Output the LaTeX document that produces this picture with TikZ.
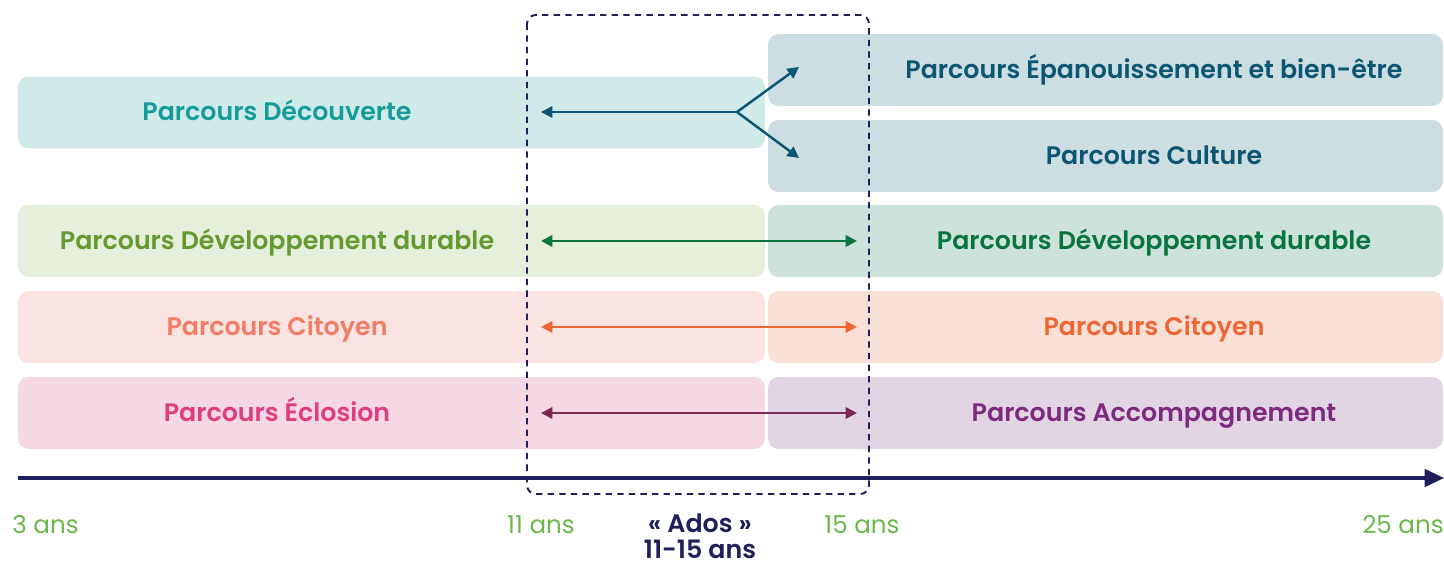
\documentclass[tikz,border=0pt]{standalone}
\usepackage{fontspec}
\setmainfont{Poppins}[BoldFont={Poppins SemiBold}]
\usetikzlibrary{arrows.meta}

\definecolor{navy}{HTML}{1F1F5C}
\definecolor{agegreen}{HTML}{6AB84A}
\definecolor{decfill}{HTML}{D0EAEA}
\definecolor{dectext}{HTML}{159C98}
\definecolor{epafill}{HTML}{CDDEE3}
\definecolor{epatext}{HTML}{0B5672}
\definecolor{devlfill}{HTML}{E5EFDB}
\definecolor{devltext}{HTML}{649A30}
\definecolor{devrfill}{HTML}{CDE2DA}
\definecolor{devrtext}{HTML}{087540}
\definecolor{citlfill}{HTML}{FAE3E1}
\definecolor{citltext}{HTML}{F07E66}
\definecolor{citrfill}{HTML}{F9E0D6}
\definecolor{citrtext}{HTML}{EE6633}
\definecolor{ecllfill}{HTML}{F5D8E4}
\definecolor{eclltext}{HTML}{DE3D80}
\definecolor{accfill}{HTML}{E2D5E3}
\definecolor{acctext}{HTML}{7D2A7F}
\definecolor{eclarrow}{HTML}{7A2A55}

\tikzset{
  parcours/.style={font=\fontsize{14.4}{17}\selectfont\bfseries, text height=12pt, text depth=2pt},
  leftbox/.style={rounded corners=6pt, minimum width=14.94cm, minimum height=1.44cm},
  rightbox/.style={rounded corners=6pt, minimum width=13.5cm, minimum height=1.44cm},
  lien/.style={line width=1.4pt, {Triangle[length=6.5pt,width=6.5pt]}-{Triangle[length=6.5pt,width=6.5pt]}},
  age/.style={font=\fontsize{14}{16}\selectfont, text=agegreen, inner sep=0pt}
}

\begin{document}
\begin{tikzpicture}[x=0.02cm, y=-0.02cm]

        \useasboundingbox (0,0) rectangle (1444,564);

        % boxes
        \begin{scope}[every node/.style={inner sep=0pt}]
          \node[leftbox, fill=decfill]   (dec)  at (391.5,112.5) {};
          \node[rightbox, fill=epafill]  (epa)  at (1105.5,70) {};
          \node[rightbox, fill=epafill]  (cul)  at (1105.5,156) {};
          \node[leftbox, fill=devlfill]  (devl) at (391.5,241) {};
          \node[rightbox, fill=devrfill] (devr) at (1105.5,241) {};
          \node[leftbox, fill=citlfill]  (citl) at (391.5,327) {};
          \node[rightbox, fill=citrfill] (citr) at (1105.5,327) {};
          \node[leftbox, fill=ecllfill]  (ecl)  at (391.5,413) {};
          \node[rightbox, fill=accfill]  (acc)  at (1105.5,413) {};
        \end{scope}

        % labels
        \begin{scope}[every node/.style={parcours, inner sep=0pt}]
          \node[text=dectext]  (tdec)  at (277,112)  {Parcours Découverte};
          \node[text=epatext]  (tepa)  at (1154,70)  {Parcours Épanouissement et bien-être};
          \node[text=epatext]  (tcul)  at (1154,156) {Parcours Culture};
          \node[text=devltext] (tdevl) at (277,241)  {Parcours Développement durable};
          \node[text=devrtext] (tdevr) at (1154,241) {Parcours Développement durable};
          \node[text=citltext] (tcitl) at (277,327)  {Parcours Citoyen};
          \node[text=citrtext] (tcitr) at (1154,327) {Parcours Citoyen};
          \node[text=eclltext] (tecl)  at (277,413)  {Parcours Éclosion};
          \node[text=acctext]  (tacc)  at (1154,413) {Parcours Accompagnement};
        \end{scope}

        % ados window
        \draw[navy, line width=1.1pt, dash pattern=on 3.6pt off 3pt, rounded corners=5pt]
          (527,15) rectangle (869,494);

        % time axis
        \coordinate (a0) at (18,478);
        \coordinate (a1) at (1444,478);
        \draw[navy, line width=1.8pt, -{Triangle[length=11pt,width=10pt]}] (a0) -- (a1);

        \node[age, anchor=west] (ans3)  at (12,525)  {3 ans};
        \node[age] (ans11) at (541,525) {11 ans};
        \node[age] (ans15) at (862,525) {15 ans};
        \node[age, anchor=east] (ans25) at (1444,525) {25 ans};
        \node[navy, parcours, inner sep=0pt] (ados)  at (700,524) {« Ados »};
        \node[navy, parcours, inner sep=0pt] (ados2) at (700,550) {11-15 ans};

        % links
        \coordinate (fork) at (737,112);
        \coordinate (decend) at (541,112);
        \coordinate (epaend) at (799,67);
        \coordinate (culend) at (799,158);
        \begin{scope}[line width=1.4pt, color=epatext, -{Triangle[length=6.5pt,width=6.5pt]}]
          \draw (fork) -- (decend);
          \draw (fork) -- (epaend);
          \draw (fork) -- (culend);
        \end{scope}

        \coordinate (dev11) at (541,241); \coordinate (dev15) at (857,241);
        \coordinate (cit11) at (541,327); \coordinate (cit15) at (857,327);
        \coordinate (ecl11) at (541,413); \coordinate (ecl15) at (857,413);
        \draw[lien, devrtext] (dev11) -- (dev15);
        \draw[lien, citrtext] (cit11) -- (cit15);
        \draw[lien, eclarrow] (ecl11) -- (ecl15);

      \end{tikzpicture}
\end{document}
